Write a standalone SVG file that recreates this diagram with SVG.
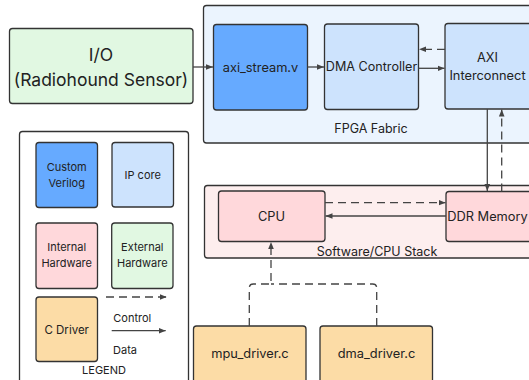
<svg xmlns="http://www.w3.org/2000/svg" width="529" height="380" viewBox="0 0 529 380">
<defs>
<style>
.box{stroke:#333;stroke-width:1.3}
.t{font-family:Inter,"Noto Sans","Liberation Sans",sans-serif;fill:#222;text-anchor:middle;dominant-baseline:central}
.c{fill:none;stroke:#444;stroke-width:1.3}
.d{stroke-dasharray:8 5}
.verilog{fill:#66aaff}
.ip{fill:#cde3fd}
.ext{fill:#e1f8e2}
.int{fill:#ffd8db}
.drv{fill:#fcdca6}
</style>
<marker id="ah" viewBox="0 0 10 10" refX="10" refY="5" markerWidth="7" markerHeight="7" markerUnits="userSpaceOnUse" orient="auto">
<path d="M0,1 L10,5 L0,9 z" fill="#444"/>
</marker>
</defs>
<rect width="529" height="380" fill="#fff"/>

<g id="fpga-fabric">
<rect x="203.5" y="5.5" width="340" height="137.5" rx="3" fill="#ebf4fe" class="box"/>
<text class="t" x="371" y="128.5" font-size="12.5">FPGA Fabric</text>
</g>
<g id="software-stack">
<rect x="204.5" y="185.5" width="340" height="72.5" rx="3" fill="#fdeeee" class="box"/>
<text class="t" x="377" y="251.5" font-size="12.5">Software/CPU Stack</text>
</g>

<g id="io">
<rect x="9.5" y="28.5" width="183.5" height="75" rx="3" class="box ext"/>
<text class="t" x="101" y="54.5" font-size="17.5">I/O</text>
<text class="t" x="101" y="79.5" font-size="17.5">(Radiohound Sensor)</text>
</g>
<g id="axi-stream">
<rect x="213.5" y="24.5" width="94" height="85.5" rx="3" class="box verilog"/>
<text class="t" x="260.5" y="67" font-size="12.8">axi_stream.v</text>
</g>
<g id="dma-controller">
<rect x="324.5" y="24" width="94" height="85.5" rx="3" class="box ip"/>
<text class="t" x="371.5" y="66.7" font-size="12.6">DMA Controller</text>
</g>
<g id="axi-interconnect">
<rect x="445" y="23.5" width="90" height="85.5" rx="3" class="box ip"/>
<text class="t" x="487.5" y="57.7" font-size="12.8">AXI</text>
<text class="t" x="487.5" y="75" font-size="12.8">Interconnect</text>
</g>
<g id="cpu">
<rect x="218.5" y="191" width="106.5" height="50.5" rx="3" class="box int"/>
<text class="t" x="271.5" y="216" font-size="12.8">CPU</text>
</g>
<g id="ddr-memory">
<rect x="446" y="191.5" width="90" height="50" rx="3" class="box int"/>
<text class="t" x="487.5" y="216.5" font-size="12.8">DDR Memory</text>
</g>
<g id="mpu-driver">
<rect x="193.5" y="326" width="112.5" height="60" rx="3" class="box drv"/>
<text class="t" x="250" y="353.3" font-size="12.8">mpu_driver.c</text>
</g>
<g id="dma-driver">
<rect x="320" y="326" width="112.5" height="60" rx="3" class="box drv"/>
<text class="t" x="376.5" y="353.3" font-size="12.8">dma_driver.c</text>
</g>

<g id="connectors">
<path class="c" d="M193 67 H213" marker-end="url(#ah)"/>
<path class="c" d="M307.5 67 H324" marker-end="url(#ah)"/>
<path class="c" d="M418.5 68.3 H444.5" marker-end="url(#ah)"/>
<path class="c d" d="M445 49.3 H419" marker-end="url(#ah)"/>
<path class="c" d="M487.3 109 V191" marker-end="url(#ah)"/>
<path class="c d" d="M501.7 191.5 V109.5" marker-end="url(#ah)"/>
<path class="c d" d="M325 202.7 H445.5" marker-end="url(#ah)"/>
<path class="c" d="M446 216 H325.5" marker-end="url(#ah)"/>
<path class="c d" d="M249.3 326 V288 Q249.3 284 253.3 284 H271 V242" marker-end="url(#ah)"/>
<path class="c d" d="M376.7 326 V288 Q376.7 284 372.7 284 H271"/>
</g>

<g id="legend">
<rect x="19.5" y="131.5" width="169" height="260" rx="3" fill="#fff" class="box"/>
<g id="legend-custom-verilog">
<rect x="36" y="142.5" width="61.5" height="65" rx="3" class="box verilog"/>
<text class="t" x="66.7" y="166.7" font-size="11">Custom</text>
<text class="t" x="66.7" y="182.5" font-size="11">Verilog</text>
</g>
<g id="legend-ip-core">
<rect x="112" y="142.5" width="61.5" height="64.5" rx="3" class="box ip"/>
<text class="t" x="142.7" y="175" font-size="11">IP core</text>
</g>
<g id="legend-internal">
<rect x="36" y="223" width="61.5" height="65.5" rx="3" class="box int"/>
<text class="t" x="66.7" y="247.3" font-size="11">Internal</text>
<text class="t" x="66.7" y="263.3" font-size="11">Hardware</text>
</g>
<g id="legend-external">
<rect x="111.7" y="223" width="61.3" height="65.5" rx="3" class="box ext"/>
<text class="t" x="142.3" y="247.3" font-size="11">External</text>
<text class="t" x="142.3" y="263.3" font-size="11">Hardware</text>
</g>
<g id="legend-c-driver">
<rect x="36" y="297" width="61.5" height="64.5" rx="3" class="box drv"/>
<text class="t" x="66.7" y="330" font-size="11.5">C Driver</text>
</g>
<path class="c d" d="M106 297 H166.7" marker-end="url(#ah)"/>
<text class="t" x="132.3" y="317.7" font-size="11">Control</text>
<path class="c" d="M111.7 330.7 H165.7" marker-end="url(#ah)"/>
<text class="t" x="125" y="350" font-size="11">Data</text>
<text class="t" x="104" y="370" font-size="11">LEGEND</text>
</g>
</svg>
